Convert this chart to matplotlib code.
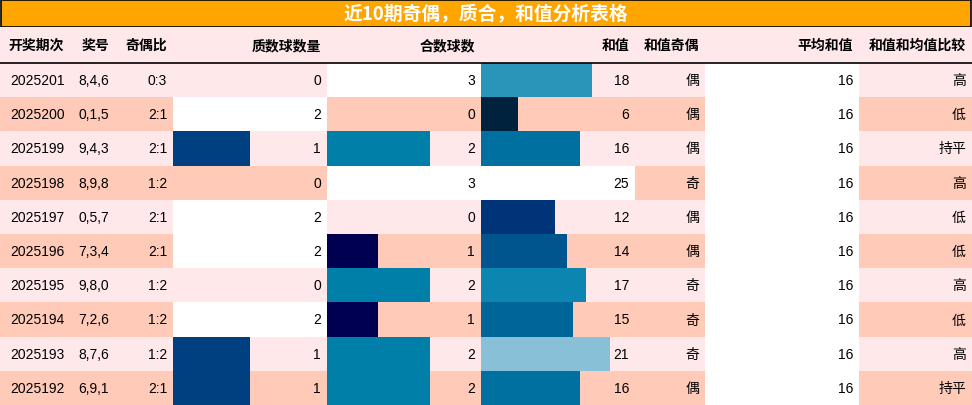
import matplotlib.pyplot as plt
from matplotlib.patches import Rectangle

plt.rcParams['font.family'] = ['Noto Sans CJK SC']

TITLE = '近10期奇偶，质合，和值分析表格'
HEADERS = ['开奖期次', '奖号', '奇偶比', '质数球数量', '合数球数', '和值', '和值奇偶', '平均和值', '和值和均值比较']
periods = ['2025201', '2025200', '2025199', '2025198', '2025197', '2025196', '2025195', '2025194', '2025193', '2025192']
numbers = ['8,4,6', '0,1,5', '9,4,3', '8,9,8', '0,5,7', '7,3,4', '9,8,0', '7,2,6', '8,7,6', '6,9,1']
odd_even = ['0:3', '2:1', '2:1', '1:2', '2:1', '2:1', '1:2', '1:2', '1:2', '2:1']
prime_cnt = [0, 2, 1, 0, 2, 2, 0, 2, 1, 1]
comp_cnt = [3, 0, 2, 3, 0, 1, 2, 1, 2, 2]
sums = [18, 6, 16, 25, 12, 14, 17, 15, 21, 16]
sum_parity = ['偶', '偶', '偶', '奇', '偶', '偶', '奇', '奇', '奇', '偶']
avg_sum = [16] * 10
compare = ['高', '低', '持平', '高', '低', '低', '高', '低', '高', '持平']

# bar colours per value
prime_col = {1: '#003f80', 2: '#ffffff'}
comp_col = {1: '#000050', 2: '#0080a8', 3: '#ffffff'}
sum_col = {6: '#00223d', 12: '#003478', 14: '#00558f', 15: '#006598', 16: '#0070a0',
           17: '#0c86b0', 18: '#2a95b8', 21: '#88c0d8', 25: '#ffffff'}

edges = [0, 75, 115, 173, 327, 481, 635, 705, 859, 972]
W, H = 972, 406
TOP, HEAD, ROW = 28, 36, 34.2
ROW_BG = ['#ffe8ea', '#ffcbb8']

fig = plt.figure(figsize=(W / 100, H / 100), dpi=100)
ax = fig.add_axes([0, 0, 1, 1])
ax.set_xlim(0, W)
ax.set_ylim(H, 0)
ax.axis('off')

ax.add_patch(Rectangle((1, 1), W - 2, TOP - 1, facecolor='#ffa500', edgecolor='black', lw=1.2))
ax.text(W / 2, TOP / 2 + 1, TITLE, ha='center', va='center', color='white', fontsize=13.5, fontweight='bold')

ax.add_patch(Rectangle((0, TOP), W, HEAD, facecolor='#ffe8ea', lw=0))
for i, h in enumerate(HEADERS):
    if i == 0:
        ax.text(edges[0] + 8, TOP + HEAD / 2, h, ha='left', va='center', fontsize=10, fontweight='bold')
    else:
        ax.text(edges[i + 1] - 6, TOP + HEAD / 2, h, ha='right', va='center', fontsize=10, fontweight='bold')
ax.plot([0, W], [TOP + HEAD, TOP + HEAD], color='black', lw=1.2)


def bar_cell(x0, x1, y, val, vmax, colors):
    if val > 0:
        ax.add_patch(Rectangle((x0, y), (x1 - x0) * val / vmax, ROW, facecolor=colors[val], lw=0))


y0 = TOP + HEAD
for r in range(len(periods)):
    y = y0 + r * ROW
    yc = y + ROW / 2
    ax.add_patch(Rectangle((0, y), W, ROW, facecolor=ROW_BG[r % 2], lw=0))
    ax.add_patch(Rectangle((edges[7], y), edges[8] - edges[7], ROW, facecolor='white', lw=0))
    bar_cell(edges[3], edges[4], y, prime_cnt[r], max(prime_cnt), prime_col)
    bar_cell(edges[4], edges[5], y, comp_cnt[r], max(comp_cnt), comp_col)
    bar_cell(edges[5], edges[6], y, sums[r], max(sums), sum_col)
    vals = [periods[r], numbers[r], odd_even[r], prime_cnt[r], comp_cnt[r], sums[r],
            sum_parity[r], avg_sum[r], compare[r]]
    for i, v in enumerate(vals):
        if i == 0:
            ax.text(edges[0] + 10, yc, str(v), ha='left', va='center', fontsize=10,
                    fontfamily='Liberation Sans')
        else:
            ax.text(edges[i + 1] - 6, yc, str(v), ha='right', va='center', fontsize=10,
                    fontfamily=['Liberation Sans', 'Noto Sans CJK SC'])

fig.savefig('out.png', dpi=100)
